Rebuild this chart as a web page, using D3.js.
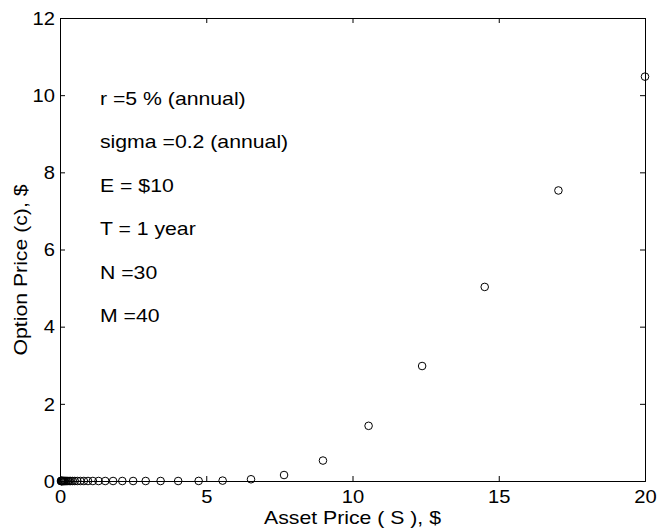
<!DOCTYPE html>
<html>
<head>
<meta charset="utf-8">
<script src="https://cdn.jsdelivr.net/npm/d3@7"></script>
<style>
  body { margin: 0; background: #fff; }
  svg { display: block; }
  text { font-family: "Liberation Sans", Arial, Helvetica, sans-serif; fill: #000; }
</style>
</head>
<body>
<svg id="chart" width="658" height="529"></svg>
<script>
// Asset prices S (geometric grid)
const assetPrice = [20, 17.04, 14.52, 12.38, 10.55, 8.99, 7.66, 6.53, 5.56, 4.74,
  4.04, 3.44, 2.93, 2.50, 2.13, 1.815, 1.546, 1.318, 1.123, 0.957,
  0.815, 0.695, 0.592, 0.505, 0.430, 0.366, 0.312, 0.266, 0.227, 0.193,
  0.165, 0.140, 0.120, 0.102, 0.087, 0.074, 0.063, 0.054, 0.046, 0.039, 0.033];
// Option prices c
const optionPrice = [10.48, 7.53, 5.03, 2.98, 1.43, 0.53, 0.155, 0.045, 0.01, 0.002,
  0, 0, 0, 0, 0, 0, 0, 0, 0, 0,
  0, 0, 0, 0, 0, 0, 0, 0, 0, 0,
  0, 0, 0, 0, 0, 0, 0, 0, 0, 0, 0];
const xTicks = [0, 5, 10, 15, 20];
const yTicks = [0, 2, 4, 6, 8, 10, 12];
const annotations = ["r =5 % (annual)", "sigma =0.2 (annual)", "E = $10", "T = 1 year", "N =30", "M =40"];
const xLabel = "Asset Price ( S ), $";
const yLabel = "Option Price (c), $";

const svg = d3.select("#chart");
const L = 60, R = 645, T = 18, B = 481;
const x = d3.scaleLinear().domain([0, 20]).range([L, R]);
const y = d3.scaleLinear().domain([0, 12]).range([B, T]);
const fs = 18, sxText = 1.18, sxTick = 1.12;

function stretch(sel, sx) {
  sel.attr("transform", function () {
    const x0 = +this.getAttribute("x") || 0;
    return `translate(${x0 * (1 - sx)},0) scale(${sx},1)`;
  });
}

// Bottom axis
const gx = svg.append("g").attr("transform", `translate(0,${B})`)
  .call(d3.axisBottom(x).tickValues(xTicks).tickSize(-5).tickPadding(9).tickFormat(d3.format("d")));
// Top axis (ticks only)
const gxt = svg.append("g").attr("transform", `translate(0,${T})`)
  .call(d3.axisTop(x).tickValues(xTicks).tickSize(-5).tickFormat(""));
// Left axis
const gy = svg.append("g").attr("transform", `translate(${L},0)`)
  .call(d3.axisLeft(y).tickValues(yTicks).tickSize(-5).tickPadding(5).tickFormat(d3.format("d")));
// Right axis (ticks only)
const gyr = svg.append("g").attr("transform", `translate(${R},0)`)
  .call(d3.axisRight(y).tickValues(yTicks).tickSize(-5).tickFormat(""));

[gx, gxt, gy, gyr].forEach(g => {
  g.selectAll("path.domain").attr("stroke", "#000").attr("stroke-width", 1);
  g.selectAll(".tick line").attr("stroke", "#000").attr("stroke-width", 1);
  g.selectAll(".tick text").attr("font-size", fs).attr("font-family", "Liberation Sans, Arial, sans-serif").attr("fill", "#000");
});
gy.selectAll(".tick text").attr("dy", "0.35em");
stretch(gx.selectAll(".tick text"), sxTick);
stretch(gy.selectAll(".tick text"), sxTick);

// Points
svg.append("g").selectAll("circle")
  .data(assetPrice.map((s, i) => [s, optionPrice[i]]))
  .join("circle")
  .attr("cx", d => x(d[0]))
  .attr("cy", d => y(d[1]))
  .attr("r", 3.8)
  .attr("fill", "none")
  .attr("stroke", "#000")
  .attr("stroke-width", 1);

// Annotations
svg.append("g").selectAll("text")
  .data(annotations)
  .join("text")
  .attr("x", 100)
  .attr("y", (d, i) => 105 + i * 43.4)
  .attr("font-size", fs)
  .text(d => d)
  .call(stretch, sxText);

// Axis labels
svg.append("text")
  .attr("x", (L + R) / 2)
  .attr("y", 524)
  .attr("text-anchor", "middle")
  .attr("font-size", fs)
  .text(xLabel)
  .call(stretch, sxText);

svg.append("text")
  .attr("transform", `translate(27,270) rotate(-90) scale(${sxText},1)`)
  .attr("text-anchor", "middle")
  .attr("font-size", fs)
  .text(yLabel);
</script>
</body>
</html>
